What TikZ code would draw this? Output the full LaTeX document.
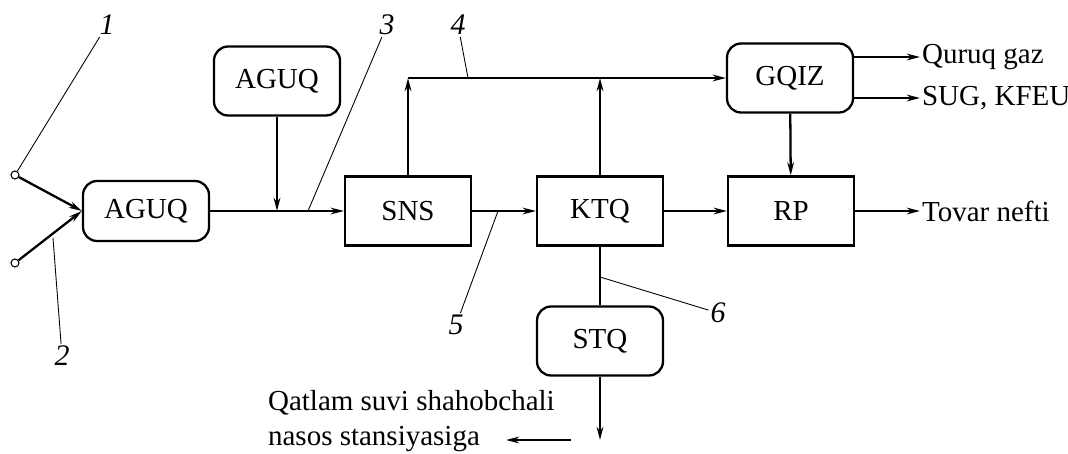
\documentclass[tikz,border=0pt]{standalone}
\usepackage{fontspec}
\setmainfont{Liberation Serif}
\usetikzlibrary{arrows.meta}

\tikzset{rbox/.style = {shape = rectangle,
                        rounded corners = 8pt,
                        line width = 1.3pt,
                        minimum width = 2.52cm,
                        minimum height = 1.38cm,
                        font=\fontsize{16.5}{19}\selectfont,
                        draw},
         sbox/.style = {rbox,
                        rounded corners = 0pt},
         port/.style = {shape = circle,
                        line width = 0.6pt,
                        inner sep = 0pt,
                        minimum size = 0.16cm,
                        draw},
         txt/.style  = {anchor = west,
                        inner sep = 1pt,
                        font=\fontsize{16.5}{19.5}\selectfont},
         num/.style  = {inner sep = 1pt,
                        font=\fontsize{17}{20}\selectfont\itshape},
         flow/.style = {line width = 1.3pt,
                        -{Stealth[length=7.5pt,width=3.8pt]}},
         pipe/.style = {line width = 1.3pt},
         lead/.style = {line width = 0.5pt}}

\begin{document}
\begin{tikzpicture}[x=0.02cm, y=-0.02cm]
	\useasboundingbox (0,0) rectangle (1068,453);
	% blocks
	\node[rbox, minimum height = 1.2cm] (aguq1) at (146,211) {AGUQ};
	\node[rbox] (aguq2) at (277,81) {AGUQ};
	\node[sbox] (sns) at (408,211) {SNS};
	\node[sbox] (ktq) at (600,211) {KTQ};
	\node[sbox] (rp) at (791,211) {RP};
	\node[rbox] (gqiz) at (790,78) {GQIZ};
	\node[rbox] (stq) at (600,341) {STQ};
	% inlets
	\node[port] (p1) at (15,175) {};
	\node[port] (p2) at (15,263) {};
	% outputs
	\node[txt] (dry) at (920,57) {Quruq gaz};
	\node[txt] (lpg) at (920,98) {SUG, KFEU};
	\node[txt] (oil) at (920,211) {Tovar nefti};
	\node[txt, align = left] (water) at (266,421) {Qatlam suvi shahobchali\\nasos stansiyasiga};
	\coordinate (wa) at (571,440);
	\coordinate (wb) at (506,440);
	\coordinate (down) at (600,440);
	% connections
	\coordinate (m3) at (aguq2.south |- sns.west);
	\coordinate (top) at (sns.north |- gqiz.west);
	\coordinate (mid) at (ktq.north |- gqiz.west);
	\draw[flow] (p1) -- (aguq1.west);
	\draw[flow] (p2) -- (aguq1.west);
	\draw[flow] (aguq1) -- (sns);
	\draw[flow] (aguq2) -- (m3);
	\draw[flow] (sns) -- (top);
	\draw[flow] (top) -- (gqiz);
	\draw[flow] (ktq) -- (mid);
	\draw[flow] (sns) -- (ktq);
	\draw[flow] (ktq) -- (rp);
	\draw[flow] (gqiz) -- (rp);
	\draw[flow] (rp) -- (oil.west);
	\draw[flow] (gqiz.east |- dry.west) -- (dry.west);
	\draw[flow] (gqiz.east |- lpg.west) -- (lpg.west);
	\draw[pipe] (ktq) -- (stq);
	\draw[flow] (stq) -- (down);
	\draw[flow] (wa) -- (wb);
	% position numbers
	\node[num] (n1) at (107,25) {1};
	\node[num] (n2) at (62,356) {2};
	\node[num] (n3) at (387,25) {3};
	\node[num] (n4) at (458,25) {4};
	\node[num] (n5) at (456,325) {5};
	\node[num] (n6) at (718,313) {6};
	\coordinate (c2) at (53,238);
	\coordinate (c3) at (308,211);
	\coordinate (c4) at (468,78);
	\coordinate (c5) at (498,211);
	\coordinate (c6) at (600,277);
	\draw[lead] (n1) -- (p1);
	\draw[lead] (n2) -- (c2);
	\draw[lead] (n3) -- (c3);
	\draw[lead] (n4) -- (c4);
	\draw[lead] (n5) -- (c5);
	\draw[lead] (n6) -- (c6);
\end{tikzpicture}
\end{document}
